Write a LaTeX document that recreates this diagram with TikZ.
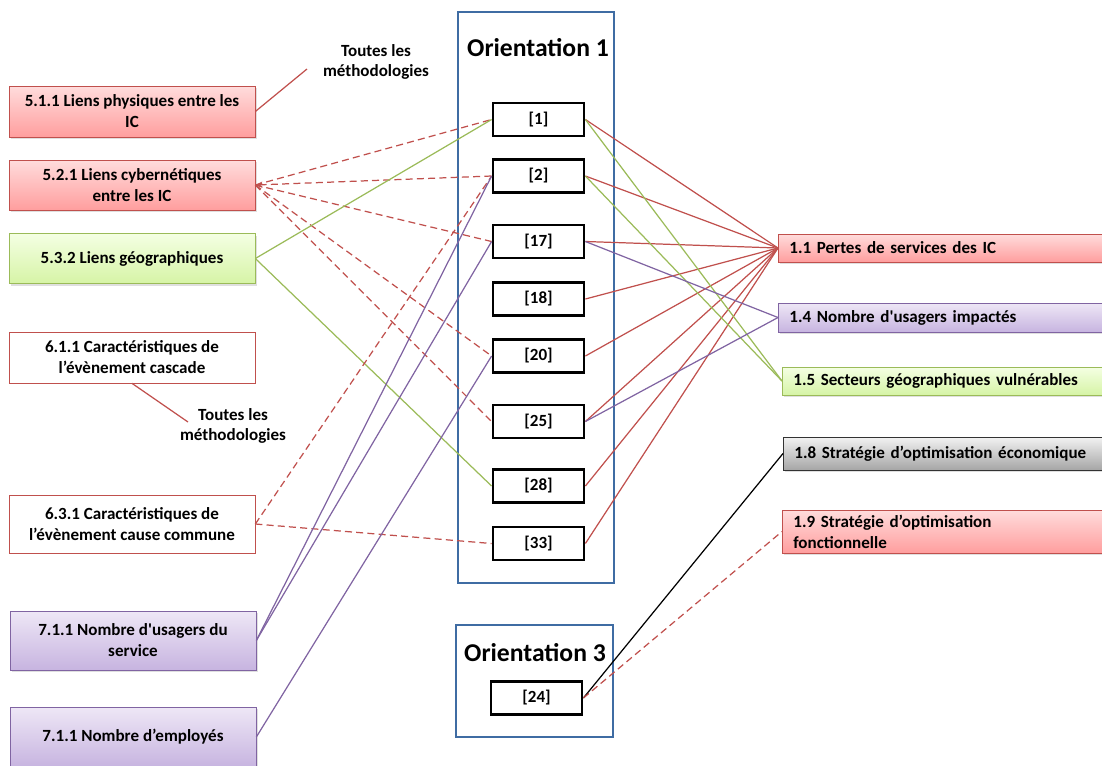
\documentclass[tikz,border=0pt]{standalone}
\usepackage{fontspec}
\setmainfont{Carlito}
\usetikzlibrary{arrows.meta,positioning,shadows}

\definecolor{ocred}{HTML}{C0504D}
\definecolor{ocgreen}{HTML}{9BBB59}
\definecolor{ocpurple}{HTML}{8064A2}
\definecolor{ocblue}{HTML}{3F6CA3}
\definecolor{redtop}{HTML}{FFDCDC}
\definecolor{redbot}{HTML}{FF9E9E}
\definecolor{greentop}{HTML}{F4FFE3}
\definecolor{greenbot}{HTML}{D6F4A6}
\definecolor{purpletop}{HTML}{EEE7F6}
\definecolor{purplebot}{HTML}{C7B4E0}
\newcommand\boxfont{\bfseries\fontsize{9.7}{11.9}\selectfont}
\newcommand\titlefont{\bfseries\fontsize{14.6}{16}\selectfont}

\tikzset{
  lbox/.style={draw, minimum width=4.92cm, align=center, font=\boxfont, inner sep=2pt},
  rbox/.style={draw, anchor=west, text width=6.2cm, align=left, inner xsep=0.22cm, inner ysep=2pt, font=\boxfont},
  redfill/.style={draw=ocred, top color=redtop, bottom color=redbot, drop shadow={opacity=0.25,shadow xshift=1pt,shadow yshift=-1.2pt}},
  greenfill/.style={draw=ocgreen, top color=greentop, bottom color=greenbot, drop shadow={opacity=0.25,shadow xshift=1pt,shadow yshift=-1.2pt}},
  purplefill/.style={draw=ocpurple, top color=purpletop, bottom color=purplebot, drop shadow={opacity=0.25,shadow xshift=1pt,shadow yshift=-1.2pt}},
  grayfill/.style={draw=black!80, top color=black!5, bottom color=black!35, drop shadow={opacity=0.25,shadow xshift=1pt,shadow yshift=-1.2pt}},
  refbox/.style={draw, line width=1.6pt, fill=white, minimum width=1.82cm, minimum height=0.66cm, font=\boxfont},
  frame/.style={draw=ocblue, line width=1.4pt},
  redline/.style={ocred, line width=0.7pt},
  reddash/.style={ocred, line width=0.7pt, dash pattern=on 4pt off 2.4pt},
  greenline/.style={ocgreen, line width=0.7pt},
  purpleline/.style={ocpurple, line width=0.7pt}
}

\begin{document}
\begin{tikzpicture}[x=0.02cm, y=-0.02cm]
\useasboundingbox (0,0) rectangle (1102,765);

\draw[frame] (458,12) rectangle (614,583);
\draw[frame] (456,625) rectangle (613,737);
\node[font=\titlefont] (t1) at (538,48) {Orientation 1};
\node[font=\titlefont] (t3) at (535,653) {Orientation 3};

\node[lbox, redfill, minimum height=1.02cm] (n511) at (132,111.5) {5.1.1 Liens physiques entre les\\IC};
\node[lbox, redfill, minimum height=1cm] (n521) at (132,185) {5.2.1 Liens cybernétiques\\entre les IC};
\node[lbox, greenfill, minimum height=1cm] (n532) at (132,258.5) {5.3.2 Liens géographiques};
\node[lbox, draw=ocred, fill=white, minimum height=1.02cm] (n611) at (132,357.5) {6.1.1 Caractéristiques de\\l’évènement cascade};
\node[lbox, draw=ocred, fill=white, minimum height=1.16cm] (n631) at (132,524) {6.3.1 Caractéristiques de\\l’évènement cause commune};
\node[lbox, purplefill, minimum height=1.18cm] (n711u) at (133,640.5) {7.1.1 Nombre d\textquotesingle usagers du\\service};
\node[lbox, purplefill, minimum height=1.2cm] (n711e) at (133,737) {7.1.1 Nombre d’employés};

\node[font=\boxfont, align=center] (m1) at (376,62) {Toutes les\\méthodologies};
\node[font=\boxfont, align=center] (m2) at (233,426) {Toutes les\\méthodologies};
\coordinate (m1end) at (307,69);
\coordinate (m2end) at (188,422);
\draw[redline] (n511.east) -- (m1end);
\draw[redline] (n611.south) -- (m2end);

\node[refbox] (b1) at (538.5,119.5) {[1]};
\node[refbox] (b2) at (538.5,176) {[2]};
\node[refbox] (b17) at (538.5,241.5) {[17]};
\node[refbox] (b18) at (538.5,299) {[18]};
\node[refbox] (b20) at (538.5,356) {[20]};
\node[refbox] (b25) at (538.5,421.5) {[25]};
\node[refbox] (b28) at (538.5,486) {[28]};
\node[refbox] (b33) at (538.5,543.5) {[33]};
\node[refbox] (b24) at (536.5,698) {[24]};

\node[rbox, redfill, minimum height=0.56cm] (r11) at (778,248) {1.1 Pertes de services des IC};
\node[rbox, purplefill, minimum height=0.58cm] (r14) at (778,317.5) {1.4 Nombre d\textquotesingle usagers impactés};
\node[rbox, greenfill, minimum height=0.56cm] (r15) at (782,381) {1.5 Secteurs géographiques vulnérables};
\node[rbox, grayfill, minimum height=0.66cm] (r18) at (783,453.5) {1.8 Stratégie d’optimisation économique};
\node[rbox, redfill, minimum height=0.86cm] (r19) at (782,531.5) {1.9 Stratégie d’optimisation\\fonctionnelle};

\draw[reddash, {Stealth[length=4pt,width=3.5pt]}-] (n521.east) -- (b2.west);
\foreach \b in {b1,b17,b20,b25}
  \draw[reddash] (n521.east) -- (\b.west);
\draw[greenline] (n532.east) -- (b1.west);
\draw[greenline] (n532.east) -- (b28.west);
\draw[reddash] (n631.east) -- (b2.west);
\draw[reddash] (n631.east) -- (b33.west);
\draw[purpleline] (n711u.east) -- (b2.west);
\draw[purpleline] (n711u.east) -- (b17.west);
\draw[purpleline] (n711e.east) -- (b20.west);

\foreach \b in {b1,b2,b17,b18,b20,b25,b28,b33}
  \draw[redline] (\b.east) -- (r11.west);
\draw[greenline] (b1.east) -- (r15.west);
\draw[greenline] (b2.east) -- (r15.west);
\draw[purpleline] (b17.east) -- (r14.west);
\draw[purpleline] (b25.east) -- (r14.west);
\draw[black, line width=0.7pt] (b24.east) -- (r18.west);
\draw[reddash] (b24.east) -- (r19.west);

\end{tikzpicture}
\end{document}
